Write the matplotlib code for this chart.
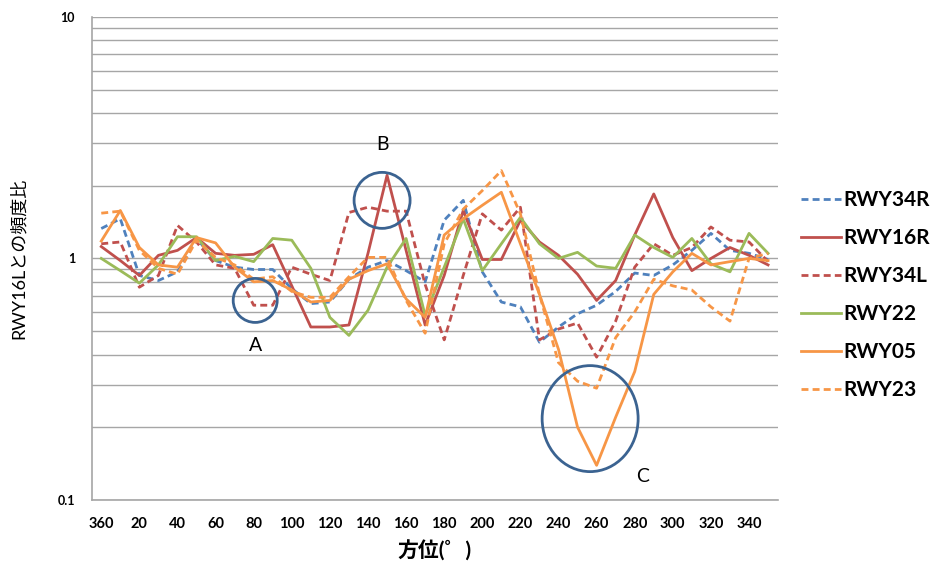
import matplotlib
matplotlib.use("Agg")
import matplotlib.pyplot as plt
import matplotlib.transforms as mtransforms
from matplotlib.patches import Ellipse
from matplotlib.ticker import FixedLocator, NullFormatter
import numpy as np

# wind direction categories (deg), 360 first
angles = [360] + list(range(10, 360, 10))

rwy34r = [1.33, 1.46, 0.85, 0.81, 0.88, 1.21, 0.98, 0.92, 0.90, 0.90,
          0.75, 0.65, 0.66, 0.82, 0.92, 0.98, 0.89, 0.80, 1.44, 1.74,
          0.88, 0.66, 0.63, 0.45, 0.52, 0.59, 0.64, 0.73, 0.87, 0.85,
          0.94, 1.08, 1.27, 1.08, 1.05, 0.99]
rwy16r = [1.12, 0.98, 0.85, 1.03, 1.08, 1.22, 1.05, 1.03, 1.04, 1.14,
          0.77, 0.52, 0.52, 0.53, 1.05, 2.21, 1.08, 0.53, 0.85, 1.58,
          0.99, 0.99, 1.44, 1.17, 1.03, 0.86, 0.67, 0.81, 1.25, 1.85,
          1.22, 0.89, 1.00, 1.11, 1.03, 0.94]
rwy34l = [1.15, 1.17, 0.76, 0.85, 1.37, 1.17, 0.94, 0.91, 0.64, 0.64,
          0.92, 0.86, 0.81, 1.55, 1.63, 1.57, 1.57, 0.78, 0.46, 0.85,
          1.53, 1.31, 1.63, 0.46, 0.51, 0.54, 0.39, 0.55, 0.92, 1.15,
          1.03, 1.11, 1.35, 1.19, 1.17, 0.97]
rwy22 = [1.00, 0.89, 0.79, 0.94, 1.23, 1.23, 0.98, 1.02, 0.97, 1.21,
         1.19, 0.91, 0.57, 0.48, 0.61, 0.92, 1.21, 0.58, 0.92, 1.46,
         0.89, 1.15, 1.48, 1.15, 1.00, 1.06, 0.93, 0.91, 1.25, 1.11,
         1.01, 1.21, 0.95, 0.88, 1.27, 1.05]
rwy05 = [1.18, 1.58, 1.11, 0.94, 0.92, 1.22, 1.16, 0.92, 0.80, 0.81,
         0.74, 0.66, 0.67, 0.82, 0.89, 0.95, 0.68, 0.57, 1.25, 1.46,
         1.66, 1.88, 1.15, 0.71, 0.42, 0.20, 0.139, 0.22, 0.34, 0.71,
         0.88, 1.05, 0.94, 0.97, 1.00, 0.98]
rwy23 = [1.54, 1.57, 1.08, 0.91, 0.86, 1.19, 1.01, 0.94, 0.82, 0.84,
         0.73, 0.69, 0.69, 0.84, 1.01, 1.01, 0.67, 0.49, 1.15, 1.60,
         1.91, 2.31, 1.53, 0.71, 0.37, 0.31, 0.29, 0.47, 0.60, 0.82,
         0.77, 0.74, 0.63, 0.55, 1.00, 1.05]

series = [
    ("RWY34R", rwy34r, "#4F81BD", "dash"),
    ("RWY16R", rwy16r, "#C0504D", "solid"),
    ("RWY34L", rwy34l, "#C0504D", "dash"),
    ("RWY22", rwy22, "#9BBB59", "solid"),
    ("RWY05", rwy05, "#F79646", "solid"),
    ("RWY23", rwy23, "#F79646", "dash"),
]

# circled spots: (label, x index, y value, width px, height px, label dx, label dy)
marks = [("A", 8.08, 0.67, 44, 44, 0, -45),
         ("B", 14.74, 1.74, 56, 56, 0, 56),
         ("C", 25.66, 0.217, 96, 106, 52, -58)]

plt.rcParams['font.family'] = ['Lato', 'Noto Sans CJK JP', 'DejaVu Sans']

fig = plt.figure(figsize=(9.38, 5.68), dpi=100)
ax = fig.add_axes([0.0978, 0.120, 0.7312, 0.850])

x = np.arange(len(angles))
for name, vals, col, style in series:
    ln, = ax.plot(x, vals, color=col, lw=2.0, label=name)
    if style == "dash":
        ln.set_dashes((2.5, 1.5))

ax.set_yscale("log")
ax.set_ylim(0.1, 10)
ax.set_xlim(-0.5, len(angles) - 0.5)

ax.yaxis.set_major_locator(FixedLocator([0.1, 1, 10]))
ax.set_yticklabels(["0.1", "1", "10"], fontsize=9, fontweight="bold")
minors = [m * d for d in (0.1, 1) for m in range(2, 10)]
ax.yaxis.set_minor_locator(FixedLocator(minors))
ax.yaxis.set_minor_formatter(NullFormatter())
ax.grid(True, which="both", axis="y", color="#A6A6A6", lw=1.0)
ax.set_axisbelow(True)

ax.set_xticks(x[::2])
ax.set_xticklabels([str(a) for a in angles[::2]], fontsize=10.5,
                   fontweight="bold")
ax.tick_params(axis="x", length=0, pad=12)
ax.tick_params(axis="y", which="both", length=0, pad=12)

for s in ("top", "right"):
    ax.spines[s].set_visible(False)
for s in ("left", "bottom"):
    ax.spines[s].set_color("#A6A6A6")
    ax.spines[s].set_linewidth(1.2)

ax.set_ylabel("RWY16Lとの頻度比", fontsize=13, labelpad=22)
ax.set_xlabel("方位(゜)", fontsize=15, fontweight="bold", labelpad=7)

for lab, xi, yv, w, h, dx, dy in marks:
    trans = fig.dpi_scale_trans + mtransforms.ScaledTranslation(xi, yv, ax.transData)
    ax.add_patch(Ellipse((0, 0), w / 100, h / 100, transform=trans,
                         fill=False, ec="#3B6391", lw=2.0, zorder=5))
    ax.annotate(lab, (xi, yv), xytext=(dx * 0.72, dy * 0.72),
                textcoords="offset points", ha="center", va="center",
                fontsize=14)

leg = ax.legend(loc="center left", bbox_to_anchor=(1.022, 0.424), frameon=False,
                handlelength=1.9, labelspacing=0.87, handletextpad=0.15,
                borderaxespad=0.0, prop={"size": 15, "weight": "bold"})

fig.savefig("out.png", dpi=100)
